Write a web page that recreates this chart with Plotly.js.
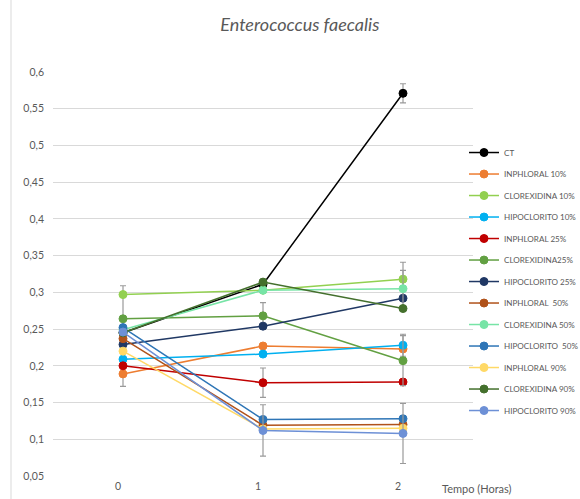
<!DOCTYPE html>
<html>
<head>
<meta charset="utf-8">
<script src="https://cdn.plot.ly/plotly-3.0.1.min.js"></script>
<style>
  html, body { margin: 0; padding: 0; background: #ffffff; }
  #chart { width: 580px; height: 499px; }
</style>
</head>
<body>
<div id="chart"></div>
<script>
// Time points (hours)
const categories = ['0', '1', '2'];

// Absorbance readings per treatment
const ct              = [0.245, 0.311, 0.571];
const inphloral10     = [0.189, 0.227, 0.223];
const clorexidina10   = [0.297, 0.303, 0.318];
const hipoclorito10   = [0.209, 0.216, 0.228];
const inphloral25     = [0.200, 0.177, 0.178];
const clorexidina25   = [0.264, 0.268, 0.207];
const hipoclorito25   = [0.229, 0.254, 0.292];
const inphloral50     = [0.237, 0.119, 0.120];
const clorexidina50   = [0.249, 0.303, 0.305];
const hipoclorito50   = [0.252, 0.127, 0.128];
const inphloral90     = [0.220, 0.114, 0.115];
const clorexidina90   = [0.245, 0.314, 0.278];
const hipoclorito90   = [0.246, 0.112, 0.108];

// Standard deviations (only where measured)
const ctErrPlus        = [0.064, null, 0.013];
const ctErrMinus       = [0.073, null, 0.013];
const clorexidina25Err = [null, 0.018, 0.034];
const inphloral25Err   = [null, 0.020, null];
const hipoclorito90Err = [null, 0.035, 0.041];
const clorexidina10Err = [null, null, 0.023];
const clorexidina50Err = [null, null, 0.025];
const hipoclorito10Err = [null, null, 0.015];

// Axis tick labels
const yTickVals = [0.05, 0.1, 0.15, 0.2, 0.25, 0.3, 0.35, 0.4, 0.45, 0.5, 0.55, 0.6];
const yTickText = ['0,05', '0,1', '0,15', '0,2', '0,25', '0,3', '0,35', '0,4', '0,45', '0,5', '0,55', '0,6'];

const series = [
  { name: 'CT',               y: ct,            color: '#000000', errPlus: ctErrPlus, errMinus: ctErrMinus },
  { name: 'INPHLORAL 10%',    y: inphloral10,   color: '#ED7D31' },
  { name: 'CLOREXIDINA 10%',  y: clorexidina10, color: '#92D050', errPlus: clorexidina10Err },
  { name: 'HIPOCLORITO 10%',  y: hipoclorito10, color: '#00B0F0', errPlus: hipoclorito10Err },
  { name: 'INPHLORAL 25%',    y: inphloral25,   color: '#C00000', errPlus: inphloral25Err },
  { name: 'CLOREXIDINA25%',   y: clorexidina25, color: '#62A042', errPlus: clorexidina25Err },
  { name: 'HIPOCLORITO 25%',  y: hipoclorito25, color: '#203864' },
  { name: 'INPHLORAL  50%',   y: inphloral50,   color: '#B0521A' },
  { name: 'CLOREXIDINA 50%',  y: clorexidina50, color: '#77E4A6', errPlus: clorexidina50Err },
  { name: 'HIPOCLORITO  50%', y: hipoclorito50, color: '#2E75B6' },
  { name: 'INPHLORAL 90%',    y: inphloral90,   color: '#FFD966' },
  { name: 'CLOREXIDINA 90%',  y: clorexidina90, color: '#44702D' },
  { name: 'HIPOCLORITO 90%',  y: hipoclorito90, color: '#6D90D6', errPlus: hipoclorito90Err }
];

const traces = series.map((s, i) => {
  const t = {
    type: 'scatter',
    mode: 'lines+markers',
    name: s.name,
    legendgroup: 'g' + i,
    x: categories,
    y: s.y,
    line: { color: s.color, width: 1.5 },
    marker: { color: s.color, size: 8, line: { color: s.color, width: 1 } }
  };
  if (s.errPlus) {
    t.error_y = {
      type: 'data',
      symmetric: !s.errMinus,
      array: s.errPlus,
      arrayminus: s.errMinus || s.errPlus,
      color: '#9a9a9a',
      thickness: 1.2,
      width: 3
    };
  }
  return t;
});

const font = "Lato, 'Open Sans', sans-serif";

const layout = {
  width: 580,
  height: 499,
  margin: { l: 53, r: 107, t: 72, b: 23, autoexpand: false },
  paper_bgcolor: '#ffffff',
  plot_bgcolor: '#ffffff',
  font: { family: font, color: '#595959', size: 10 },
  showlegend: true,
  title: {
    text: '<i>Enterococcus faecalis</i>',
    font: { family: font, size: 18, color: '#595959' },
    x: 0.517, xref: 'container', xanchor: 'center',
    y: 0.95, yref: 'container', yanchor: 'middle'
  },
  xaxis: {
    type: 'category',
    range: [-0.5, 2.5],
    showgrid: false,
    zeroline: false,
    showline: false,
    ticks: '',
    ticklabelshift: -5,
    ticklabelstandoff: 2,
    tickfont: { size: 10.5, color: '#595959' },
    fixedrange: true
  },
  yaxis: {
    range: [0.05, 0.6],
    tickvals: yTickVals,
    ticktext: yTickText,
    showgrid: true,
    gridcolor: '#D9D9D9',
    gridwidth: 1,
    zeroline: false,
    showline: false,
    ticks: '',
    ticklabelstandoff: 8,
    tickfont: { size: 10.5, color: '#595959' },
    fixedrange: true
  },
  legend: {
    xref: 'container', yref: 'container',
    x: 0.8, y: 0.7234,
    xanchor: 'left', yanchor: 'top',
    traceorder: 'grouped',
    tracegroupgap: 2.5,
    maxheight: 420,
    font: { family: font, size: 8.1, color: '#595959' },
    bgcolor: 'rgba(0,0,0,0)',
    borderwidth: 0
  },
  shapes: [
    // chart-area left border
    { type: 'line', xref: 'paper', yref: 'paper', x0: -0.1, x1: -0.1, y0: -0.06, y1: 1.18,
      line: { color: '#D9D9D9', width: 1 } }
  ],
  annotations: [
    { text: 'Tempo (Horas)', xref: 'paper', yref: 'paper', x: 0.922, y: -0.03,
      xanchor: 'left', yanchor: 'middle', showarrow: false,
      font: { family: font, size: 11, color: '#595959' } }
  ]
};

Plotly.newPlot('chart', traces, layout, { displayModeBar: false, staticPlot: true });
</script>
</body>
</html>
